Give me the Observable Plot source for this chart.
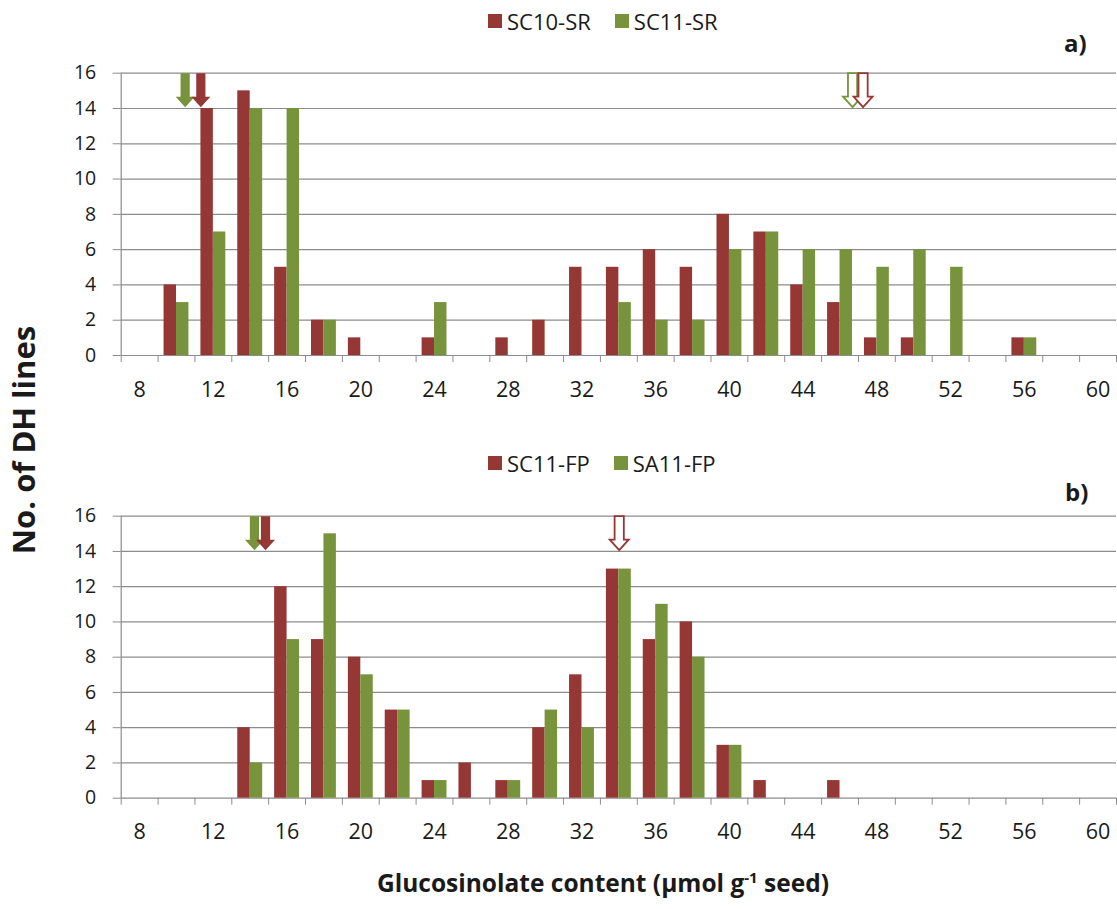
<!DOCTYPE html>
<html>
<head>
<meta charset="utf-8">
<script src="https://cdn.jsdelivr.net/npm/d3@7"></script>
<script src="https://cdn.jsdelivr.net/npm/@observablehq/plot@0.6"></script>
<style>
  html, body { margin: 0; padding: 0; background: #fff; }
  #chart { position: relative; width: 1117px; height: 909px; background: #fff; font-family: "Open Sans", sans-serif; color: #1a1a1a; overflow: hidden; }
  .abs { position: absolute; }
  .legend { display: flex; align-items: center; font-size: 22px; white-space: nowrap; line-height: 26px; }
  .legend .item { display: flex; align-items: center; margin-right: 24px; }
  .legend .sw { width: 14px; height: 14px; margin-right: 5px; }
  .tag { font-weight: bold; font-size: 24px; line-height: 26px; }
  .ytitle { font-weight: bold; font-size: 31px; white-space: nowrap; transform: translate(-50%, -50%) rotate(-90deg); line-height: 34px; }
  .xtitle { font-weight: bold; font-size: 24.5px; white-space: nowrap; transform: translate(-50%, -50%); line-height: 30px; }
  .xtitle sup { font-size: 15px; vertical-align: 9px; line-height: 0; }
</style>
</head>
<body>
<div id="chart"></div>
<script>
// ---- data ----
const categories = [8,10,12,14,16,18,20,22,24,26,28,30,32,34,36,38,40,42,44,46,48,50,52,54,56,58,60];
const tickLabels = [8,12,16,20,24,28,32,36,40,44,48,52,56,60];
const yTicks = [0,2,4,6,8,10,12,14,16];

const seriesA = ["SC10-SR", "SC11-SR"];
const sc10SR = [0,4,14,15,5,2,1,0,1,0,1,2,5,5,6,5,8,7,4,3,1,1,0,0,1,0,0];
const sc11SR = [0,3,7,14,14,2,0,0,3,0,0,0,0,3,2,2,6,7,6,6,5,6,5,0,1,0,0];

const seriesB = ["SC11-FP", "SA11-FP"];
const sc11FP = [0,0,0,4,12,9,8,5,1,2,1,4,7,13,9,10,3,1,0,1,0,0,0,0,0,0,0];
const sa11FP = [0,0,0,2,9,15,7,5,1,0,1,5,4,13,11,8,3,0,0,0,0,0,0,0,0,0,0];

// arrow markers (position on the glucosinolate axis)
const arrowsA = [
  {series: "SC11-SR", x: 10.47, hollow: false},
  {series: "SC10-SR", x: 11.32, hollow: false},
  {series: "SC11-SR", x: 46.68, hollow: true},
  {series: "SC10-SR", x: 47.25, hollow: true}
];
const arrowsB = [
  {series: "SA11-FP", x: 14.23, hollow: false},
  {series: "SC11-FP", x: 14.83, hollow: false},
  {series: "SC11-FP", x: 34.02, hollow: true}
];

const RED = "#953735";
const GREEN = "#77933C";
const GRID = "#8c8c8c";
const BW = 0.675; // bar width in category units

const blockArrow = {
  draw(context, l) {
    const sw = 4.6, hw = 9.5, hl = 10.5;
    context.moveTo(-sw, 0);
    context.lineTo(-sw, -(l - hl));
    context.lineTo(-hw, -(l - hl));
    context.lineTo(0, -l);
    context.lineTo(hw, -(l - hl));
    context.lineTo(sw, -(l - hl));
    context.lineTo(sw, 0);
    context.closePath();
  }
};

function panel(v1, v2, names, arrows, mt, mb) {
  const rows = [];
  categories.forEach((c, i) => {
    rows.push({cat: c, series: names[0], value: v1[i], side: -1});
    rows.push({cat: c, series: names[1], value: v2[i], side: 1});
  });
  const bars = rows.filter(d => d.value > 0);
  const boundaries = categories.map(c => c - 1).concat([categories[categories.length - 1] + 1]);
  return Plot.plot({
    width: 1117,
    height: 370,
    marginLeft: 120.7,
    marginRight: 1,
    marginTop: mt,
    marginBottom: mb,
    x: {domain: [boundaries[0], boundaries[boundaries.length - 1]]},
    y: {domain: [0, 16]},
    color: {type: "ordinal", domain: names, range: [RED, GREEN]},
    style: {fontFamily: "Open Sans, sans-serif", color: "#1a1a1a", background: "transparent", overflow: "visible"},
    marks: [
      Plot.gridY(yTicks.filter(v => v > 0), {stroke: GRID, strokeOpacity: 1, strokeWidth: 1.2}),
      Plot.ruleX([boundaries[0]], {stroke: GRID, strokeWidth: 1.2}),
      Plot.axisY(yTicks, {tickSize: 8, tickPadding: 17, stroke: GRID, fontSize: 19.5, label: null}),
      Plot.axisX(boundaries, {tickSize: 7, tickFormat: () => "", stroke: GRID, label: null}),
      Plot.axisX(tickLabels, {tickSize: 0, tickPadding: 26, fontSize: 21.5, label: null}),
      Plot.ruleY([0], {stroke: GRID, strokeWidth: 1.2}),
      Plot.rect(bars, {
        x1: d => d.side < 0 ? d.cat - BW : d.cat,
        x2: d => d.side < 0 ? d.cat : d.cat + BW,
        y1: 0,
        y2: "value",
        fill: "series"
      }),
      Plot.vector(arrows.filter(d => !d.hollow), {
        x: "x", y: 16, length: 34, rotate: 180, anchor: "start",
        shape: blockArrow, fill: "series", stroke: null
      }),
      Plot.vector(arrows.filter(d => d.hollow), {
        x: "x", y: 16, length: 34, rotate: 180, anchor: "start",
        shape: blockArrow, fill: "white", stroke: "series", strokeWidth: 1.8, strokeLinejoin: "miter"
      })
    ]
  });
}

function legend(names, colors) {
  const div = document.createElement("div");
  div.className = "legend";
  names.forEach((n, i) => {
    const item = document.createElement("div");
    item.className = "item";
    const sw = document.createElement("span");
    sw.className = "sw";
    sw.style.background = colors[i];
    const t = document.createElement("span");
    t.textContent = n;
    item.appendChild(sw);
    item.appendChild(t);
    div.appendChild(item);
  });
  return div;
}

const root = document.getElementById("chart");
function place(el, left, top) {
  el.classList.add("abs");
  el.style.left = left + "px";
  el.style.top = top + "px";
  root.appendChild(el);
  return el;
}

// panel a
place(legend(seriesA, [RED, GREEN]), 488, 8);
const tagA = document.createElement("div"); tagA.className = "tag"; tagA.textContent = "a)";
place(tagA, 1064, 30);
place(panel(sc10SR, sc11SR, seriesA, arrowsA, 32.7, 55), 0, 40);

// panel b
place(legend(seriesB, [RED, GREEN]), 488, 450);
const tagB = document.createElement("div"); tagB.className = "tag"; tagB.textContent = "b)";
place(tagB, 1065, 479);
place(panel(sc11FP, sa11FP, seriesB, arrowsB, 35.7, 52.3), 0, 480);

// axis titles
const yt = document.createElement("div"); yt.className = "ytitle"; yt.textContent = "No. of DH lines";
place(yt, 23, 440);
const xt = document.createElement("div"); xt.className = "xtitle";
xt.innerHTML = "Glucosinolate content (µmol g<sup>-1</sup> seed)";
place(xt, 603, 883);
</script>
</body>
</html>
